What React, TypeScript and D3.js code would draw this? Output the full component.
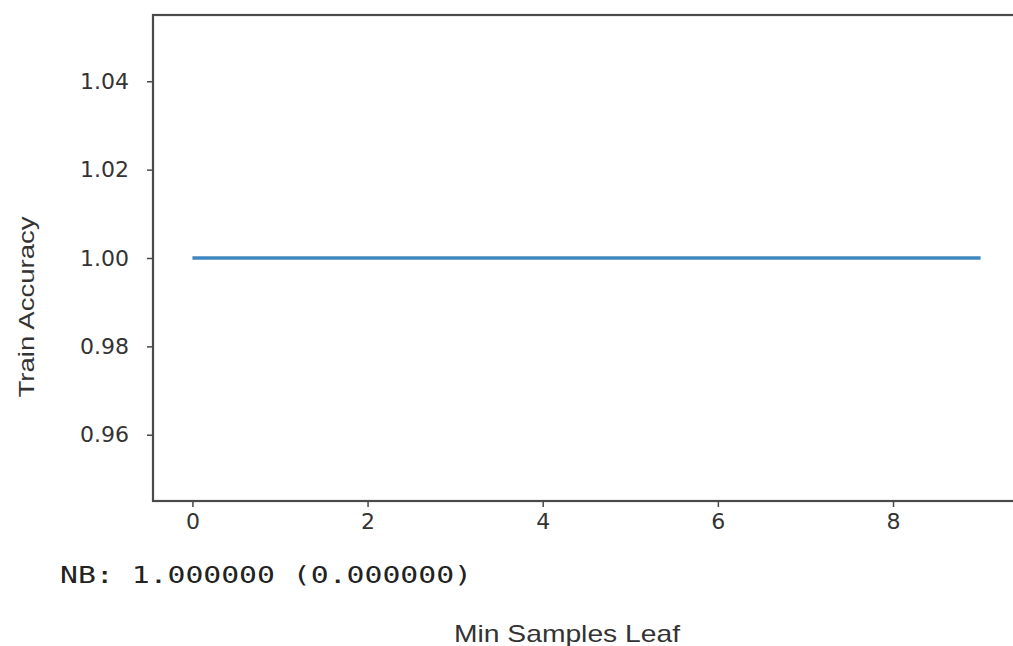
import React, { useEffect, useRef } from 'react';
import * as d3 from 'd3';

// min_samples_leaf values and the train accuracy at each
const leafSizes = [0, 1, 2, 3, 4, 5, 6, 7, 8, 9];
const trainAccuracy = [1.0, 1.0, 1.0, 1.0, 1.0, 1.0, 1.0, 1.0, 1.0, 1.0];
const xTicks = [0, 2, 4, 6, 8];
const yTicks = [0.96, 0.98, 1.0, 1.02, 1.04];
const summaryText = 'NB: 1.000000 (0.000000)';

const App = () => {
  const svgRef = useRef(null);

  useEffect(() => {
    const width = 1013;
    const height = 646;
    const box = { left: 153, right: 1020, top: 15, bottom: 501 };

    const svg = d3.select(svgRef.current);
    svg.selectAll('*').remove(); // Clear previous content
    svg.attr('width', width).attr('height', height);

    const x = d3.scaleLinear().domain([-0.45, 9.45]).range([box.left, box.right]);
    const y = d3.scaleLinear().domain([0.945, 1.055]).range([box.bottom, box.top]);

    svg.append('rect')
      .attr('width', width)
      .attr('height', height)
      .attr('fill', '#fff');

    // the line
    const line = d3.line<number>()
      .x((d, i) => x(leafSizes[i]))
      .y(d => y(d));

    svg.append('path')
      .datum(trainAccuracy)
      .attr('d', line)
      .attr('fill', 'none')
      .attr('stroke', '#3f87bf')
      .attr('stroke-width', 3.5);

    // spines
    svg.append('rect')
      .attr('x', box.left)
      .attr('y', box.top)
      .attr('width', box.right - box.left)
      .attr('height', box.bottom - box.top)
      .attr('fill', 'none')
      .attr('stroke', '#4a4a4a')
      .attr('stroke-width', 2.2);

    const xAxis = svg.append('g')
      .attr('transform', `translate(0,${box.bottom})`)
      .call(d3.axisBottom(x).tickValues(xTicks).tickFormat(d3.format('d')).tickSize(6).tickPadding(6));
    xAxis.select('.domain').remove();

    const yAxis = svg.append('g')
      .attr('transform', `translate(${box.left},0)`)
      .call(d3.axisLeft(y).tickValues(yTicks).tickFormat(d3.format('.2f')).tickSize(6).tickPadding(18));
    yAxis.select('.domain').remove();

    svg.selectAll('.tick line').attr('stroke', '#4a4a4a').attr('stroke-width', 1.5);
    svg.selectAll('.tick text')
      .attr('fill', '#333')
      .style('font-family', '"DejaVu Sans", sans-serif')
      .style('font-size', '22px');

    // axis labels
    svg.append('text')
      .attr('transform', 'translate(34,307) rotate(-90)')
      .attr('text-anchor', 'middle')
      .attr('textLength', 181)
      .attr('lengthAdjust', 'spacingAndGlyphs')
      .attr('fill', '#333')
      .style('font-family', '"Liberation Sans", Arial, sans-serif')
      .style('font-size', '22px')
      .text('Train Accuracy');

    svg.append('text')
      .attr('x', 567)
      .attr('y', 642)
      .attr('text-anchor', 'middle')
      .attr('textLength', 226)
      .attr('lengthAdjust', 'spacingAndGlyphs')
      .attr('fill', '#333')
      .style('font-family', '"Liberation Sans", Arial, sans-serif')
      .style('font-size', '24px')
      .text('Min Samples Leaf');

    svg.append('text')
      .attr('x', 60)
      .attr('y', 583)
      .attr('textLength', 412)
      .attr('lengthAdjust', 'spacingAndGlyphs')
      .attr('fill', '#222')
      .style('font-family', '"DejaVu Sans Mono", monospace')
      .style('font-size', '23px')
      .text(summaryText);
  }, []);

  return <svg ref={svgRef} style={{ position: 'absolute', left: 0, top: 0 }}></svg>;
};

export default App;
